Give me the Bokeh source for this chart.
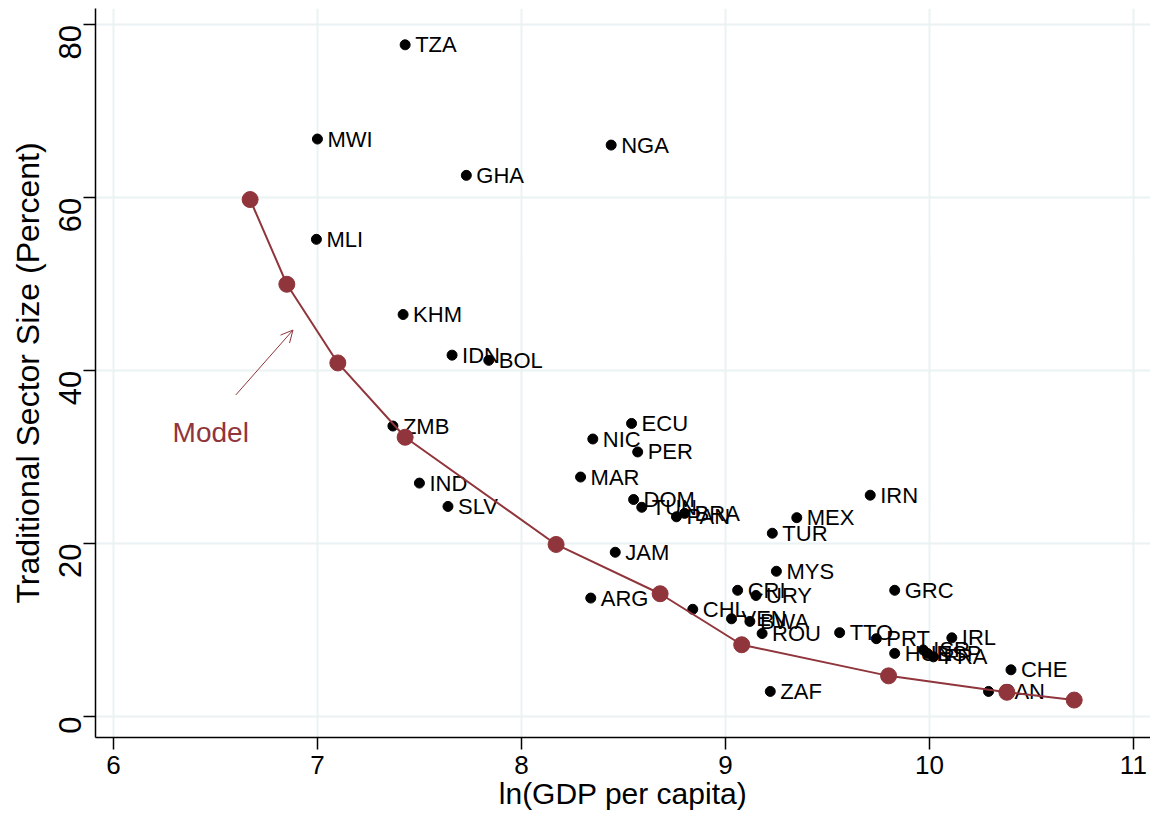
import math
from bokeh.plotting import figure
from bokeh.models import Range1d, ColumnDataSource, Arrow, OpenHead, Label, FixedTicker
from bokeh.embed import file_html
from bokeh.resources import INLINE
from bokeh.core.properties import value

countries = ["TZA", "MWI", "NGA", "GHA", "MLI", "KHM", "IDN", "BOL", "ZMB", "ECU",
             "NIC", "PER", "MAR", "IND", "IRN", "DOM", "SLV", "TUN", "PAN", "BRA",
             "MEX", "TUR", "JAM", "MYS", "GRC", "CRI", "URY", "ARG", "CHL", "VEN",
             "BWA", "ROU", "TTO", "PRT", "HUN", "IRL", "ISR", "ESP", "FRA", "CHE",
             "CAN", "ZAF"]
ln_gdp = [7.43, 7.00, 8.44, 7.73, 6.995, 7.42, 7.66, 7.84, 7.37, 8.54,
          8.35, 8.57, 8.29, 7.50, 9.71, 8.55, 7.64, 8.59, 8.76, 8.80,
          9.35, 9.23, 8.46, 9.25, 9.83, 9.06, 9.15, 8.34, 8.84, 9.03,
          9.12, 9.18, 9.56, 9.74, 9.83, 10.11, 9.97, 9.99, 10.02, 10.40,
          10.29, 9.22]
trad_share = [77.7, 66.8, 66.1, 62.6, 55.2, 46.5, 41.8, 41.2, 33.6, 33.9,
              32.1, 30.6, 27.7, 27.0, 25.6, 25.1, 24.3, 24.2, 23.1, 23.5,
              23.0, 21.2, 19.0, 16.8, 14.6, 14.6, 14.0, 13.7, 12.4, 11.3,
              11.0, 9.6, 9.7, 9.0, 7.3, 9.1, 7.7, 7.3, 6.9, 5.4,
              2.9, 2.9]

model_x = [6.67, 6.85, 7.10, 7.43, 8.17, 8.68, 9.08, 9.80, 10.38, 10.71]
model_y = [59.8, 50.0, 40.9, 32.3, 19.9, 14.2, 8.3, 4.7, 2.8, 1.9]

x_ticks = [6, 7, 8, 9, 10, 11]
y_ticks = [0, 20, 40, 60, 80]

MAROON = "#90353b"
FONT = "Liberation Sans"

p = figure(width=1150, height=815, output_backend="svg", toolbar_location=None,
           x_range=Range1d(5.912, 11.084), y_range=Range1d(-2.43, 81.9),
           min_border_left=95, min_border_right=0, min_border_top=8, min_border_bottom=78)
p.outline_line_color = None
p.background_fill_color = "white"

for ax in (p.xaxis, p.yaxis):
    ax.axis_line_color = "black"
    ax.axis_line_width = 1.5
    ax.major_tick_line_color = "black"
    ax.major_tick_line_width = 1.5
    ax.major_tick_out = 12
    ax.major_tick_in = 0
    ax.minor_tick_line_color = None
    ax.major_label_text_font = FONT
    ax.major_label_text_color = "black"
    ax.axis_label_text_font = FONT
    ax.axis_label_text_font_style = "normal"
    ax.axis_label_text_color = "black"

p.xaxis.major_label_text_font_size = "26px"
p.yaxis.major_label_text_font_size = "31px"
p.xaxis.axis_label_text_font_size = "30px"
p.yaxis.axis_label_text_font_size = "32px"

p.xaxis.ticker = FixedTicker(ticks=x_ticks)
p.yaxis.ticker = FixedTicker(ticks=y_ticks)
p.yaxis.major_label_orientation = math.pi / 2
p.xaxis.axis_label = "ln(GDP per capita)"
p.yaxis.axis_label = "Traditional Sector Size (Percent)"
p.xaxis.major_label_standoff = 6
p.yaxis.major_label_standoff = 13
p.xaxis.axis_label_standoff = 0
p.yaxis.axis_label_standoff = 0

p.xgrid.ticker = FixedTicker(ticks=x_ticks)
p.ygrid.ticker = FixedTicker(ticks=y_ticks)
for g in (p.xgrid, p.ygrid):
    g.grid_line_color = "#eaf2f3"
    g.grid_line_width = 2

src = ColumnDataSource(dict(x=ln_gdp, y=trad_share, lab=countries))
p.scatter("x", "y", source=src, size=10, color="black")
p.text("x", "y", text="lab", source=src, x_offset=10, text_baseline="middle",
       text_font=value(FONT), text_font_size="22px", text_color="black")

p.line(model_x, model_y, line_color=MAROON, line_width=2)
p.scatter(model_x, model_y, size=16, color=MAROON)

p.add_layout(Arrow(end=OpenHead(size=12, line_color=MAROON, line_width=1),
                   x_start=6.60, y_start=37.2, x_end=6.88, y_end=44.7,
                   line_color=MAROON, line_width=1))
p.add_layout(Label(x=6.29, y=32.8, text="Model", text_color=MAROON,
                   text_font=FONT, text_font_size="28px", text_baseline="middle"))

open("out.html", "w").write(file_html(p, INLINE))
